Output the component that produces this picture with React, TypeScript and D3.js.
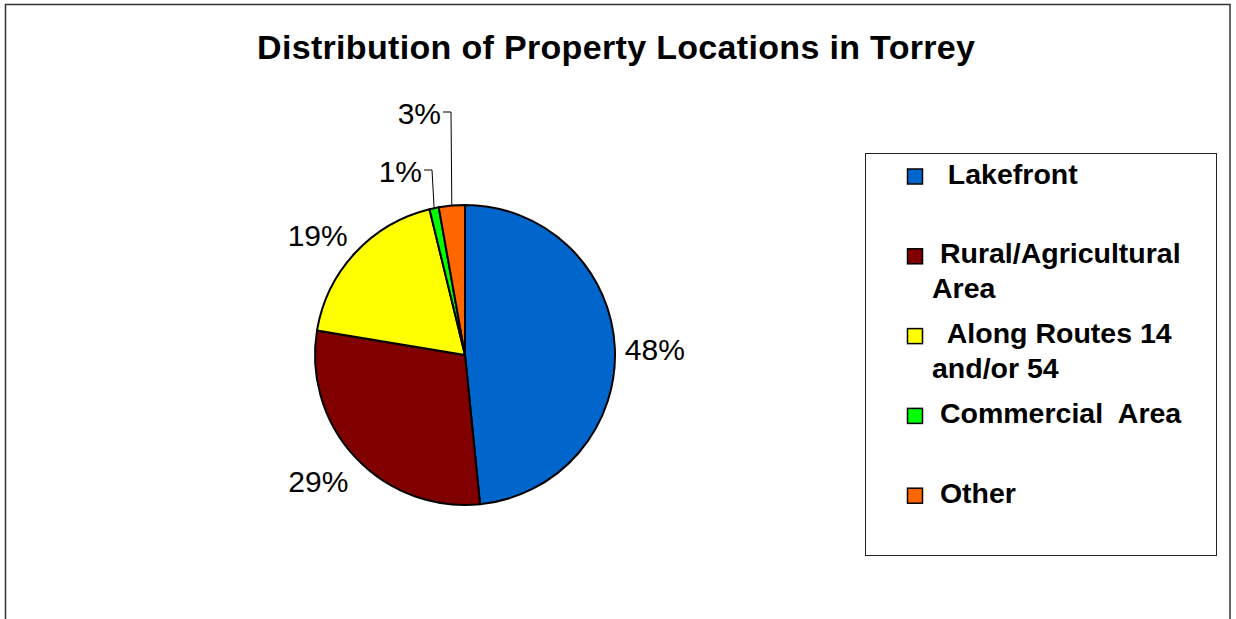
import React from "react";
import * as d3 from "d3";

// slice data (percent of properties)
const categories = ["Lakefront", "Rural/Agricultural Area", "Along Routes 14 and/or 54", "Commercial Area", "Other"];
const shares = [48.4, 29.2, 18.6, 1.0, 2.8];
const colors = ["#0066CC", "#800000", "#FFFF00", "#00FF00", "#FF6600"];
// legend text as wrapped in the original (leading spaces kept)
const legendLines = [["  Lakefront"], [" Rural/Agricultural", "Area"], ["  Along Routes 14", "and/or 54"], [" Commercial  Area"], [" Other"]];
// small slices get a leader line, elbow offset from the pie centre
const leaderElbows: Record<string, [number, number]> = {
  "Commercial Area": [-33, -185],
  "Other": [-14, -243],
};

const W = 1236;
const H = 619;
const cx = 465;
const cy = 355;
const radius = 150;
const font = "'Liberation Sans', Arial, sans-serif";

const App = () => {
  const data = categories.map((c, i) => ({ name: c, value: shares[i], color: colors[i] }));
  const pie = d3.pie<any>().sort(null).value(d => d.value).startAngle(0).endAngle(2 * Math.PI);
  const arcs = pie(data);
  const arc = d3.arc<any>().innerRadius(0).outerRadius(radius);

  const labelRx = 160;
  const labelRy = 165;
  const capH = 21.5;

  return (
    <svg width={W} height={H} style={{ position: "absolute", left: 0, top: 0 }} fontFamily={font}>
      <rect x={0} y={0} width={W} height={H} fill="#fff" />
      <rect x={5.5} y={4.5} width={1224.5} height={720} fill="none" stroke="#333" strokeWidth={1.5} />
      <text x={616} y={59.3} textAnchor="middle" fontSize={34} fontWeight="bold" textLength={718} lengthAdjust="spacing">
        Distribution of Property Locations in Torrey
      </text>

      <g transform={`translate(${cx},${cy})`}>
        {arcs.map((a, i) => (
          <path key={i} d={arc(a) as string} fill={a.data.color} stroke="#000" strokeWidth={2} strokeLinejoin="round" />
        ))}
        {arcs.map((a, i) => {
          const mid = (a.startAngle + a.endAngle) / 2;
          const s = Math.sin(mid);
          const c = Math.cos(mid);
          const label = `${Math.round(a.data.value)}%`;
          const elbow = leaderElbows[a.data.name];
          if (elbow) {
            const px = radius * s;
            const py = -radius * c;
            return (
              <g key={"l" + i}>
                <polyline points={`${elbow[0] - 8},${elbow[1]} ${elbow[0]},${elbow[1]} ${px},${py}`} fill="none" stroke="#000" strokeWidth={1} />
                <text x={elbow[0] - 10} y={elbow[1] + 12} textAnchor="end" fontSize={30}>{label}</text>
              </g>
            );
          }
          const px = labelRx * s;
          const py = -labelRy * c;
          const k = Math.max(-1, Math.min(1, c * 1.5));
          const baseline = py + capH / 2 - k * (capH / 2) + 3;
          return (
            <text key={"l" + i} x={px} y={baseline} textAnchor={s >= 0 ? "start" : "end"} fontSize={30}>{label}</text>
          );
        })}
      </g>

      <rect x={865.5} y={153.5} width={351} height={402} fill="#fff" stroke="#222" strokeWidth={1} />
      {data.map((d, i) => {
        const yc = 176 + i * 79.8;
        return (
          <g key={"lg" + i}>
            <rect x={907.5} y={yc - 7} width={15} height={15} fill={d.color} stroke="#000" strokeWidth={1.5} />
            {legendLines[i].map((line, j) => (
              <text key={j} x={932} y={yc + 7.5 + j * 35} fontSize={28.5} fontWeight="bold" style={{ whiteSpace: "pre" }}>
                {line}
              </text>
            ))}
          </g>
        );
      })}
    </svg>
  );
};

export default App;
